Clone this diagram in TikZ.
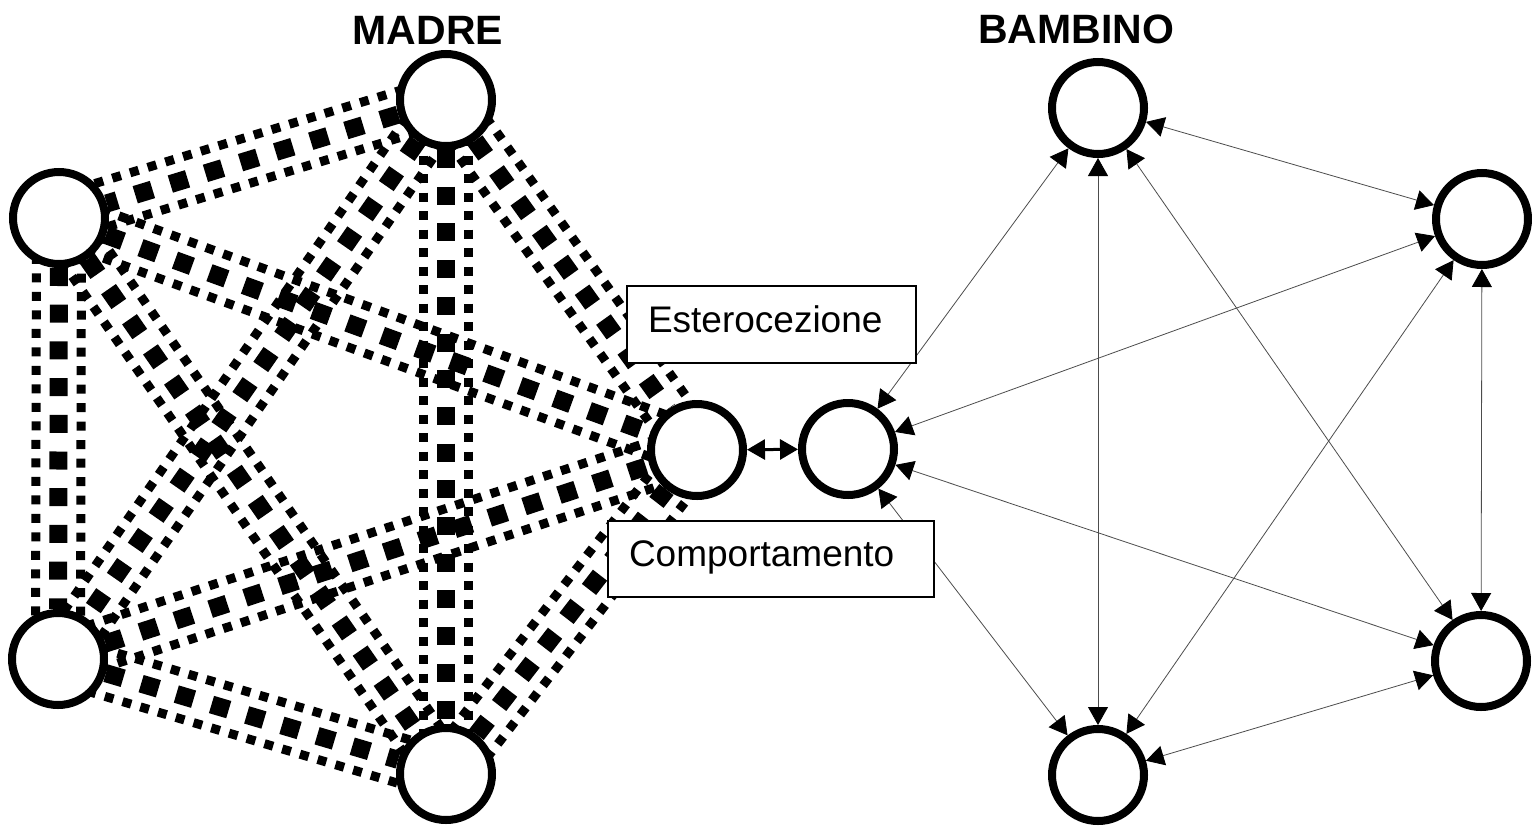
\documentclass[tikz,border=0pt]{standalone}
\usepackage{fontspec}
\setmainfont{Liberation Sans}
\usetikzlibrary{arrows.meta,calc,backgrounds}

\begin{document}
\begin{tikzpicture}[x=0.5pt,y=-0.5pt,
  nodo/.style={circle, draw, line width=4pt, fill=white, minimum size=46pt, inner sep=0pt},
  dotside/.style={line width=4.5pt, dash pattern=on 4.5pt off 4.75pt},
  dotmid/.style={line width=9pt, dash pattern=on 9pt off 9.35pt},
  punta/.style={{Triangle[length=9pt,width=10pt,color=black]}-{Triangle[length=9pt,width=10pt,color=black]}},
  link/.style={punta, line width=0.4pt, draw=black!70},
  etichetta/.style={draw, fill=white, line width=0.75pt, inner xsep=10.5pt, inner ysep=0pt,
    text height=13.3pt, text depth=5.6pt,
    align=left, minimum height=38.5pt, font=\fontsize{18.5}{22}\selectfont},
  titolo/.style={font=\bfseries\fontsize{20.5}{24}\selectfont}]

  \useasboundingbox (0,0) rectangle (1532,825);

  \newcommand\banda[2]{%
    \draw[dotmid] (#1) -- (#2);
    \draw[dotside] ($(#1)!11.25pt!90:(#2)$) -- ($(#2)!11.25pt!-90:(#1)$);
    \draw[dotside] ($(#1)!11.25pt!-90:(#2)$) -- ($(#2)!11.25pt!90:(#1)$);
  }

  \node[titolo] (madre) at (428,30) {MADRE};
  \node[titolo] (bambino) at (1076,29) {BAMBINO};

  %% madre
  \node[nodo] (m1) at (446,100) {};
  \node[nodo] (m2) at (59,218) {};
  \node[nodo] (m3) at (58,659) {};
  \node[nodo] (m4) at (446,774) {};
  \node[nodo] (m5) at (697,450) {};

  %% bambino
  \node[nodo] (b0) at (848,449) {};
  \node[nodo] (b1) at (1098,108) {};
  \node[nodo] (b2) at (1482,219) {};
  \node[nodo] (b3) at (1481,661) {};
  \node[nodo] (b4) at (1098,775) {};

  \begin{scope}[on background layer]
    \foreach \a/\b in {m1/m2, m1/m3, m1/m4, m1/m5, m2/m3, m2/m4, m2/m5, m3/m4, m3/m5, m4/m5}
      \banda{\a}{\b};
  \end{scope}

  \draw[punta, line width=1.5pt] (m5) -- (b0); %% madre<->bambino

  \foreach \a/\b in {b0/b1, b0/b2, b0/b3, b0/b4, b1/b2, b1/b3, b1/b4, b2/b3, b2/b4, b3/b4}
    \draw[link] (\a) -- (\b);

  \node[etichetta, text width=123.5pt] (est) at (771.5,324.5) {Esterocezione};
  \node[etichetta, text width=142pt, minimum height=38pt] (comp) at (771,559) {Comportamento};
\end{tikzpicture}
\end{document}
